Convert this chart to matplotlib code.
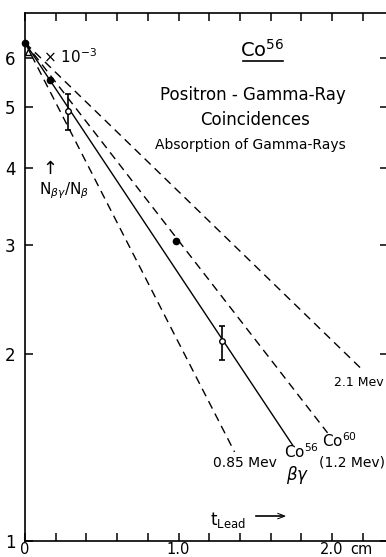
import matplotlib
matplotlib.use("Agg")
import matplotlib.pyplot as plt
from matplotlib.lines import Line2D

# data (t in cm of lead, ratio in units of 10^-3)
origin_t = 0.0
origin_ratio = 6.36
line_labels = ["0.85 Mev", "Co56 beta-gamma", "Co60 (1.2 Mev)", "2.1 Mev"]
end_t = [1.365, 1.743, 1.971, 2.199]
end_ratio = [1.392, 1.428, 1.494, 1.887]
line_styles = ["--", "-", "--", "--"]

err_t = [0.283, 1.285]
err_ratio = [4.94, 2.10]
err_low = [4.60, 1.96]
err_high = [5.25, 2.22]

dot_t = [0.0, 0.163, 0.985]
dot_ratio = [6.36, 5.54, 3.04]
tri_t = [0.02]
tri_ratio = [6.15]

x_ticks = [0, 0.2, 0.4, 0.6, 0.8, 1.0, 1.2, 1.4, 1.6, 1.8, 2.0, 2.2]
x_ticklabels = ["0", "", "", "", "", "1.0", "", "", "", "", "2.0", ""]
y_ticks = [1, 2, 3, 4, 5, 6]

W, H = 386, 557
fig = plt.figure(figsize=(W / 100, H / 100), dpi=100)
ax = fig.add_axes([25 / W, 16 / H, (388 - 25) / W, 528 / H])


def px(x, y):
    return x / W, 1 - y / H


for t1, r1, ls in zip(end_t, end_ratio, line_styles):
    ax.plot([origin_t, t1], [origin_ratio, r1], ls, color="black", lw=1.0,
            dashes=(6, 4) if ls == "--" else (None, None))

for t, r, lo, hi in zip(err_t, err_ratio, err_low, err_high):
    ax.errorbar([t], [r], yerr=[[r - lo], [hi - r]], fmt="o", ms=4,
                mfc="white", mec="black", ecolor="black", elinewidth=1.2,
                capsize=2.5, capthick=1.2, zorder=5)

ax.plot(dot_t, dot_ratio, "o", color="black", ms=4.5, zorder=5, clip_on=False)
ax.plot(tri_t, tri_ratio, "^", mfc="white", mec="black", ms=5, zorder=5, clip_on=False)

ax.set_yscale("log")
ax.set_xlim(0, (388 - 25) / 153.5)
ax.set_ylim(1, 7.1)
ax.set_xticks(x_ticks)
ax.set_xticklabels(x_ticklabels)
ax.set_yticks(y_ticks)
ax.set_yticklabels([str(v) for v in y_ticks])
ax.minorticks_off()
ax.tick_params(direction="in", length=6, width=1.1, top=True, right=True,
               labelsize=12)
ax.tick_params(axis="y", pad=7)
ax.tick_params(axis="x", pad=0.5, labelsize=10.5)
for s in ax.spines.values():
    s.set_linewidth(1.2)

fs = dict(color="black", transform=fig.transFigure)
fig.text(*px(350, 549), "cm", fontsize=10.5, ha="left", va="center", **fs)
fig.text(*px(43, 57), r"$\times$ 10$^{-3}$", fontsize=11, ha="left", va="center", **fs)
fig.text(*px(262, 50), r"Co$^{56}$", fontsize=14, ha="center", va="center", **fs)
fig.add_artist(Line2D([243 / W, 283 / W], [1 - 61 / H, 1 - 61 / H], color="black", lw=1.2))
fig.text(*px(253, 95), "Positron - Gamma-Ray", fontsize=12, ha="center", va="center", **fs)
fig.text(*px(255, 120), "Coincidences", fontsize=12, ha="center", va="center", **fs)
fig.text(*px(250, 145), "Absorption of Gamma-Rays", fontsize=10, ha="center", va="center", **fs)
fig.text(*px(50, 169), "\u2191", fontsize=13, ha="center", va="center", **fs)
fig.text(*px(64, 191), r"N$_{\beta\gamma}$/N$_{\beta}$", fontsize=11, ha="center", va="center", **fs)
fig.text(*px(384, 382), "2.1 Mev", fontsize=9, ha="right", va="center", **fs)
fig.text(*px(213, 463), "0.85 Mev", fontsize=10, ha="left", va="center", **fs)
fig.text(*px(284, 452), r"Co$^{56}$", fontsize=11, ha="left", va="center", **fs)
fig.text(*px(286, 475), r"$\beta\gamma$", fontsize=12, ha="left", va="center", **fs)
fig.text(*px(322, 441), r"Co$^{60}$", fontsize=11, ha="left", va="center", **fs)
fig.text(*px(319, 462), "(1.2 Mev)", fontsize=10, ha="left", va="center", **fs)
fig.text(*px(210, 520), r"t$_{\mathrm{Lead}}$", fontsize=12, ha="left", va="center", **fs)
fig.add_artist(Line2D([256 / W, 283 / W], [1 - 516 / H, 1 - 516 / H], color="black", lw=1.2))
fig.text(*px(286, 516), ">", fontsize=9, ha="right", va="center", **fs)

fig.savefig("out.png", dpi=100)
